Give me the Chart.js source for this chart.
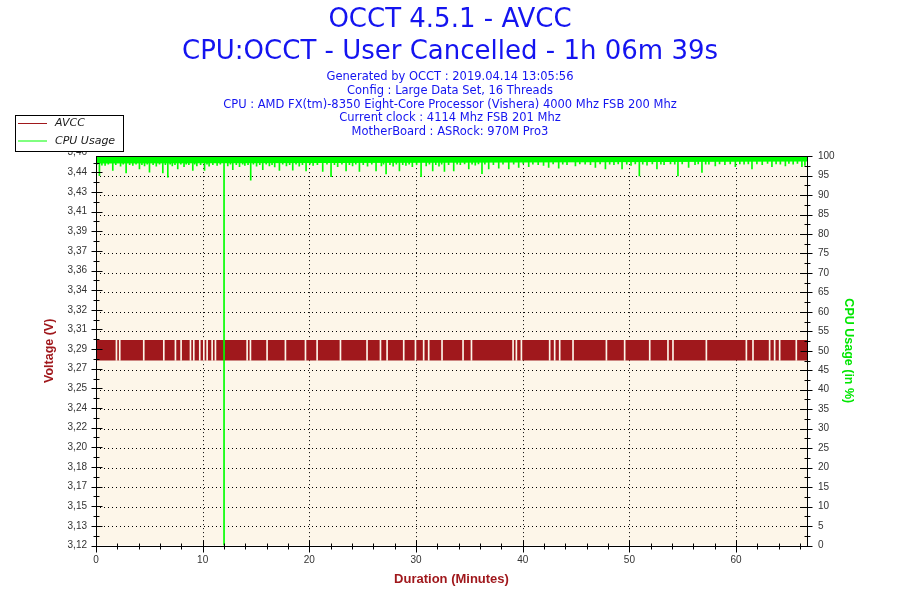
<!DOCTYPE html>
<html>
<head>
<meta charset="utf-8">
<title>OCCT 4.5.1 - AVCC</title>
<script src="https://cdn.jsdelivr.net/npm/chart.js@4.4.1/dist/chart.umd.min.js"></script>
<style>
    html, body { margin: 0; padding: 0; background: #fff; }
    #wrap { width: 900px; height: 600px; }
</style>
</head>
<body>
<div id="wrap"><canvas id="myChart" width="900" height="600"></canvas></div>
<script>
// test ran 1h 06m 39s
var durationMax = 66.65;
var durationTicks = [0, 10, 20, 30, 40, 50, 60];

// AVCC flips between two readings all the time, so it shows as a band
var avccTimes = [0, 66.65];
var avccHigh = [3.296, 3.296];
var avccLow = [3.278, 3.278];
// places where the reading sat still for a moment (slits in the band)
var avccGapTimes = [1.87, 2.18, 4.43, 6.31, 7.40, 7.93, 8.81, 9.12, 9.68, 10.06, 10.37, 10.84, 11.15,
    14.12, 14.43, 15.99, 17.71, 19.59, 20.68, 22.87, 25.36, 26.62, 27.24, 28.80, 29.90, 30.67, 31.14,
    32.39, 34.36, 35.15, 39.05, 39.36, 39.83, 42.48, 42.95, 43.42, 44.67, 47.80, 49.51, 51.86, 53.57,
    54.04, 57.17, 60.92, 61.54, 63.10, 63.57, 64.04, 65.60];

// CPU usage sits at ~99-100 with short dips
var cpuBandTimes = [0, 33, 66.65];
var cpuBandHigh = [100, 100, 100];
var cpuBandLow = [98.1, 98.3, 98.6];
var cpuDipTimes = [0.15, 0.37, 0.6, 0.9, 1.2, 1.62, 1.9, 2.35, 2.6, 2.87, 3.2, 3.5, 3.8, 4.12, 4.35, 4.6,
    4.85, 5.06, 5.4, 5.7, 6.0, 6.31, 6.55, 6.78, 7.0, 7.2, 7.45, 7.71, 8.0, 8.3, 8.5, 8.75, 9.12, 9.3,
    9.5, 9.85, 10.22, 10.45, 10.65, 11.0, 11.4, 11.7, 12.05, 12.4, 12.65, 12.87, 13.2, 13.5, 13.8, 14.0,
    14.3, 14.55, 14.8, 15.1, 15.4, 15.68, 16.0, 16.3, 16.55, 16.8, 17.24, 17.55, 17.9, 18.2, 18.49, 18.8,
    19.1, 19.4, 19.74, 20.1, 20.4, 20.8, 21.3, 21.7, 22.08, 22.4, 22.7, 23.1, 23.49, 23.8, 24.1, 24.4,
    24.74, 25.1, 25.5, 25.9, 26.3, 26.8, 27.0, 27.24, 27.6, 27.9, 28.2, 28.49, 28.8, 29.1, 29.4, 29.7,
    30.1, 30.52, 31.0, 31.3, 31.61, 31.9, 32.2, 32.45, 32.71, 33.1, 33.58, 33.9, 34.2, 34.6, 34.99, 35.3,
    35.6, 35.9, 36.23, 36.5, 36.86, 37.3, 37.8, 38.2, 38.74, 39.2, 39.67, 40.1, 40.61, 41.0, 41.5, 42.0,
    42.48, 42.9, 43.42, 43.8, 44.2, 44.99, 45.4, 45.9, 46.4, 46.86, 47.3, 47.8, 48.2, 48.6, 49.0, 49.36,
    49.8, 50.2, 50.6, 50.98, 51.3, 51.7, 52.2, 52.63, 53.0, 53.3, 53.9, 54.3, 54.6, 55.0, 55.6, 56.2,
    56.5, 56.85, 57.2, 57.5, 58.1, 58.5, 59.0, 59.5, 59.98, 60.4, 60.8, 61.2, 61.54, 62.0, 62.5, 63.0,
    63.41, 63.8, 64.2, 64.67, 65.0, 65.4, 65.8, 66.22, 66.5];
var cpuDipValues = [97.9, 95.0, 97.7, 97.6, 97.9, 96.3, 97.8, 97.4, 97.9, 95.7, 97.8, 97.6, 97.9, 96.7, 97.8, 97.5,
    97.9, 95.9, 97.8, 97.4, 97.9, 95.7, 97.8, 94.6, 97.9, 97.5, 97.8, 96.7, 97.9, 97.3, 97.9, 97.8, 96.3, 97.9,
    97.5, 97.8, 96.3, 97.9, 97.4, 97.8, 97.6, 97.9, 0, 97.5, 97.9, 96.5, 97.8, 97.3, 97.9, 97.6,
    97.8, 93.8, 97.9, 97.4, 97.8, 96.5, 97.9, 97.5, 97.8, 97.2, 96.3, 97.9, 97.5, 97.8, 96.4, 97.9,
    97.4, 97.8, 96.2, 97.9, 97.6, 97.8, 96.1, 97.9, 94.7, 97.8, 97.3, 97.9, 96.2, 97.8, 97.5, 97.9,
    96.1, 97.8, 97.4, 97.9, 96.2, 97.5, 97.9, 95.4, 97.8, 97.4, 97.9, 96.2, 97.8, 97.6, 97.9, 97.3,
    97.8, 94.7, 97.5, 97.9, 96.2, 97.8, 97.4, 97.9, 96.1, 97.8, 96.2, 97.9, 97.8, 98.0, 96.7, 97.9,
    97.7, 98.0, 95.5, 97.9, 96.7, 97.8, 96.9, 97.9, 96.7, 97.9, 97.1, 98.0, 97.3, 97.9, 97.8, 97.6,
    97.1, 98.0, 96.9, 97.9, 97.8, 97.5, 98.0, 97.9, 97.8, 97.1, 98.0, 96.7, 97.9, 97.8, 98.0, 96.7,
    97.9, 97.6, 98.0, 94.9, 97.9, 97.7, 98.0, 96.7, 97.9, 97.8, 98.0, 97.9, 94.9, 98.0, 97.1, 97.8,
    98.0, 95.8, 97.9, 97.9, 97.5, 98.0, 97.8, 98.0, 97.3, 98.0, 97.9, 98.0, 96.7, 98.0, 97.8, 98.1,
    97.3, 98.0, 97.9, 97.5, 98.1, 97.9, 98.1, 97.3, 97.6];

// left axis: OCCT prints rounded values, spaced evenly
var voltMin = 3.115, voltMax = 3.458, voltStep = 0.0173;
var voltTickLabels = ['3,12', '3,13', '3,15', '3,17', '3,18', '3,20', '3,22', '3,24', '3,25', '3,27', '3,29',
    '3,31', '3,32', '3,34', '3,36', '3,37', '3,39', '3,41', '3,43', '3,44', '3,46'];
var cpuTicks = [0, 5, 10, 15, 20, 25, 30, 35, 40, 45, 50, 55, 60, 65, 70, 75, 80, 85, 90, 95, 100];

var titleLines = ['OCCT 4.5.1 - AVCC', 'CPU:OCCT - User Cancelled - 1h 06m 39s'];
var infoLines = [
    'Generated by OCCT : 2019.04.14 13:05:56',
    'Config : Large Data Set, 16 Threads',
    'CPU : AMD FX(tm)-8350 Eight-Core Processor (Vishera) 4000 Mhz FSB 200 Mhz',
    'Current clock : 4114 Mhz FSB 201 Mhz',
    'MotherBoard : ASRock: 970M Pro3'
];
var legendOrder = ['AVCC', 'CPU Usage'];

var avccRed = '#A0181C';
var cpuGreen = '#00FF00';
var plotBg = '#FDF6E9';
var titleBlue = '#1414F0';
var tickFont = { family: 'Liberation Sans', size: 10 };
var tickColor = '#333333';

function points(xs, ys) {
    return xs.map(function(x, i) { return { x: x, y: ys[i] }; });
}

var backdrop = {
    id: 'backdrop',
    beforeDraw: function(chart) {
        var ctx = chart.ctx, a = chart.chartArea;
        ctx.save();
        ctx.fillStyle = '#fff';
        ctx.fillRect(0, 0, chart.width, chart.height);
        ctx.fillStyle = plotBg;
        ctx.fillRect(a.left, a.top, a.right - a.left, a.bottom - a.top);
        ctx.restore();
    },
    beforeDatasetsDraw: function(chart) {
        // dotted grid, rows follow the CPU axis
        var ctx = chart.ctx, a = chart.chartArea;
        var xs = chart.scales.x, ys = chart.scales.y1;
        ctx.save();
        ctx.strokeStyle = '#000';
        ctx.lineWidth = 1;
        ctx.setLineDash([1, 3]);
        cpuTicks.forEach(function(v) {
            if (v <= 0 || v >= 100) return;
            var py = Math.round(ys.getPixelForValue(v)) + 0.5;
            ctx.beginPath();
            ctx.moveTo(a.left, py);
            ctx.lineTo(a.right, py);
            ctx.stroke();
        });
        durationTicks.forEach(function(v) {
            if (v <= 0) return;
            var px = Math.round(xs.getPixelForValue(v)) + 0.5;
            ctx.beginPath();
            ctx.moveTo(px, a.top);
            ctx.lineTo(px, a.bottom);
            ctx.stroke();
        });
        ctx.restore();
    }
};

function seg(ctx, x1, y1, x2, y2) {
    ctx.beginPath();
    ctx.moveTo(x1, y1);
    ctx.lineTo(x2, y2);
    ctx.stroke();
}

var axesFrame = {
    id: 'axesFrame',
    afterDraw: function(chart) {
        var ctx = chart.ctx, a = chart.chartArea;
        var xs = chart.scales.x, yl = chart.scales.y, yr = chart.scales.y1;
        var L = Math.round(a.left) + 0.5, R = Math.round(a.right) + 0.5;
        var T = Math.round(a.top) + 0.5, B = Math.round(a.bottom) + 0.5;
        ctx.save();
        ctx.strokeStyle = '#000';
        ctx.lineWidth = 1;
        ctx.strokeRect(L, T, R - L, B - T);

        // left axis
        yl.ticks.forEach(function(t) {
            var py = Math.round(yl.getPixelForValue(t.value)) + 0.5;
            if (py >= T && py <= B) seg(ctx, L - 5, py, L + 6, py);
            var pm = Math.round(yl.getPixelForValue(t.value + voltStep / 2)) + 0.5;
            if (pm > T && pm < B) seg(ctx, L - 3, pm, L + 3, pm);
        });
        // right axis
        cpuTicks.forEach(function(v) {
            var py = Math.round(yr.getPixelForValue(v)) + 0.5;
            seg(ctx, R - 7, py, R + 5, py);
            if (v < 100) {
                var pm = Math.round(yr.getPixelForValue(v + 2.5)) + 0.5;
                seg(ctx, R - 3, pm, R + 3, pm);
            }
        });
        // bottom axis, minor every 2 minutes
        for (var m = 0; m <= durationMax; m += 2) {
            var px = Math.round(xs.getPixelForValue(m)) + 0.5;
            if (m % 10 === 0) seg(ctx, px, B - 6, px, B + 6);
            else seg(ctx, px, B - 3, px, B + 3);
        }
        ctx.restore();
    }
};

var legendBox = {
    id: 'legendBox',
    afterDraw: function(chart) {
        var ctx = chart.ctx;
        var sets = chart.data.datasets;
        ctx.save();
        ctx.fillStyle = '#fff';
        ctx.fillRect(16, 115, 108, 36);
        ctx.strokeStyle = '#000';
        ctx.lineWidth = 1;
        ctx.strokeRect(15.5, 115.5, 108, 36);
        ctx.font = 'italic 11px "DejaVu Sans"';
        ctx.textBaseline = 'middle';
        legendOrder.forEach(function(name, i) {
            var d = sets.filter(function(s) { return s.label === name; })[0];
            var y = 123.5 + i * 17.5;
            ctx.strokeStyle = d.borderColor;
            seg(ctx, 18, y, 47, y);
            ctx.fillStyle = '#1a1a1a';
            ctx.fillText(name, 55, y);
        });
        ctx.restore();
    }
};

var ctx = document.getElementById('myChart');
var myChart = new Chart(ctx, {
    type: 'line',
    data: {
        datasets: [{
            type: 'bar',
            label: 'CPU dips',
            data: cpuDipTimes.map(function(t, i) { return { x: t, y: [cpuDipValues[i], 100] }; }),
            yAxisID: 'y1',
            backgroundColor: cpuGreen,
            borderWidth: 0,
            barThickness: 1
        }, {
            label: 'CPU Usage',
            data: points(cpuBandTimes, cpuBandHigh),
            yAxisID: 'y1',
            borderColor: cpuGreen,
            backgroundColor: cpuGreen,
            borderWidth: 0,
            pointRadius: 0,
            fill: 2
        }, {
            label: 'CPU low',
            data: points(cpuBandTimes, cpuBandLow),
            yAxisID: 'y1',
            borderColor: cpuGreen,
            borderWidth: 0,
            pointRadius: 0,
            fill: false
        }, {
            type: 'bar',
            label: 'AVCC steady',
            data: avccGapTimes.map(function(t) { return { x: t, y: [avccLow[0], avccHigh[0]] }; }),
            yAxisID: 'y',
            backgroundColor: plotBg,
            borderWidth: 0,
            barThickness: 1
        }, {
            label: 'AVCC',
            data: points(avccTimes, avccHigh),
            yAxisID: 'y',
            borderColor: avccRed,
            backgroundColor: avccRed,
            borderWidth: 0,
            pointRadius: 0,
            fill: 5
        }, {
            label: 'AVCC low',
            data: points(avccTimes, avccLow),
            yAxisID: 'y',
            borderColor: avccRed,
            borderWidth: 0,
            pointRadius: 0,
            fill: false
        }]
    },
    options: {
        responsive: false,
        devicePixelRatio: 1,
        animation: false,
        events: [],
        layout: { padding: 0 },
        plugins: {
            legend: { display: false },
            tooltip: { enabled: false },
            title: {
                display: true,
                text: titleLines,
                color: titleBlue,
                font: { family: 'DejaVu Sans', size: 26, weight: 'normal', lineHeight: 1.2 },
                padding: { top: 5, bottom: 3 }
            },
            subtitle: {
                display: true,
                text: infoLines,
                color: titleBlue,
                font: { family: 'DejaVu Sans', size: 11.5, weight: 'normal', lineHeight: 1.195 },
                padding: { top: 0, bottom: 17 }
            }
        },
        scales: {
            x: {
                type: 'linear',
                min: 0,
                max: durationMax,
                offset: false,
                afterBuildTicks: function(s) {
                    s.ticks = durationTicks.map(function(v) { return { value: v }; });
                },
                afterFit: function(s) { s.height = 54.5; },
                ticks: { autoSkip: false, maxRotation: 0, padding: 9, color: tickColor, font: tickFont },
                grid: { display: false, drawTicks: false },
                border: { display: false },
                title: {
                    display: true,
                    text: 'Duration (Minutes)',
                    color: avccRed,
                    font: { family: 'Liberation Sans', size: 13, weight: 'bold' },
                    padding: { top: 0, bottom: 13 }
                }
            },
            y: {
                type: 'linear',
                position: 'left',
                min: voltMin,
                max: voltMax,
                afterBuildTicks: function(s) {
                    s.ticks = voltTickLabels.map(function(l, i) { return { value: voltMin + i * voltStep }; });
                },
                afterFit: function(s) { s.width = 96; },
                ticks: {
                    autoSkip: false,
                    padding: 9,
                    color: tickColor,
                    font: tickFont,
                    callback: function(v, i) { return voltTickLabels[i]; }
                },
                grid: { display: false, drawTicks: false },
                border: { display: false },
                title: {
                    display: true,
                    text: 'Voltage (V)',
                    color: avccRed,
                    font: { family: 'Liberation Sans', size: 12.5, weight: 'bold' },
                    padding: { top: 42.5, bottom: 0 }
                }
            },
            y1: {
                type: 'linear',
                position: 'right',
                min: 0,
                max: 100,
                afterBuildTicks: function(s) {
                    s.ticks = cpuTicks.map(function(v) { return { value: v }; });
                },
                afterFit: function(s) { s.width = 93; },
                ticks: { autoSkip: false, padding: 11, color: tickColor, font: tickFont },
                grid: { display: false, drawTicks: false },
                border: { display: false },
                title: {
                    display: true,
                    text: 'CPU Usage (in %)',
                    color: '#00E600',
                    font: { family: 'Liberation Sans', size: 12.5, weight: 'bold' },
                    padding: { top: 44, bottom: 0 }
                }
            }
        }
    },
    plugins: [backdrop, axesFrame, legendBox]
});
</script>
</body>
</html>
